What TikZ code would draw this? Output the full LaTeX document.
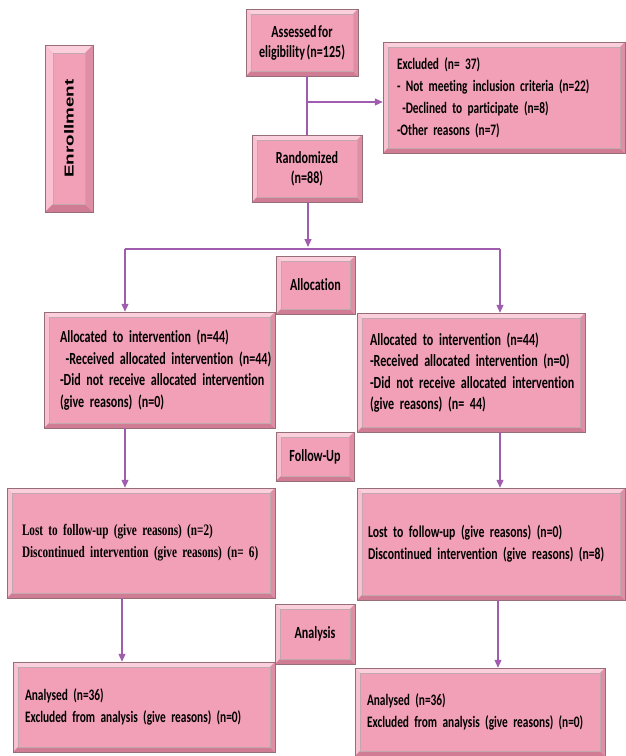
\documentclass[tikz,border=0pt]{standalone}
\usepackage{fontspec}
\setmainfont{Carlito}[FakeStretch=0.71,WordSpace=0.6,Ligatures=NoCommon]
\newfontfamily\tnr{Liberation Serif}[FakeStretch=0.70,WordSpace=0.7]
\newfontfamily\ars{Liberation Sans}
\usetikzlibrary{arrows.meta,calc}
\definecolor{pface}{RGB}{242,160,184}
\definecolor{ptop}{RGB}{251,208,220}
\definecolor{pleft}{RGB}{248,192,208}
\definecolor{pbot}{RGB}{208,124,148}
\definecolor{pright}{RGB}{222,142,165}
\definecolor{pedge}{RGB}{150,110,120}
\definecolor{arr}{RGB}{160,92,175}
\tikzset{
  bevw/.store in=\bevw, bevw=5pt,
  bbox/.style={draw=pedge, line width=0.5pt, fill=pface, inner sep=0pt,
    font=\bfseries, text=black,
    path picture={
      \fill[ptop] (path picture bounding box.north west) -- (path picture bounding box.north east)
        -- ([xshift=-\bevw,yshift=-\bevw]path picture bounding box.north east)
        -- ([xshift=\bevw,yshift=-\bevw]path picture bounding box.north west) -- cycle;
      \fill[pleft] (path picture bounding box.north west) -- (path picture bounding box.south west)
        -- ([xshift=\bevw,yshift=\bevw]path picture bounding box.south west)
        -- ([xshift=\bevw,yshift=-\bevw]path picture bounding box.north west) -- cycle;
      \fill[pbot] (path picture bounding box.south west) -- (path picture bounding box.south east)
        -- ([xshift=-\bevw,yshift=\bevw]path picture bounding box.south east)
        -- ([xshift=\bevw,yshift=\bevw]path picture bounding box.south west) -- cycle;
      \fill[pright] (path picture bounding box.north east) -- (path picture bounding box.south east)
        -- ([xshift=-\bevw,yshift=\bevw]path picture bounding box.south east)
        -- ([xshift=-\bevw,yshift=-\bevw]path picture bounding box.north east) -- cycle;
      \draw[pedge!60, line width=0.3pt] ([xshift=\bevw,yshift=-\bevw]path picture bounding box.north west)
        rectangle ([xshift=-\bevw,yshift=\bevw]path picture bounding box.south east);
    }},
  conn/.style={draw=arr, line width=1.1pt},
  arrow/.style={conn, -{Triangle[length=8pt,width=7pt]}},
}
\newcommand{\ml}[1]{\mbox{#1}}
\begin{document}
\begin{tikzpicture}[x=1pt,y=-1pt]
\useasboundingbox (0,0) rectangle (625,756);
\fill[white] (0,0) rectangle (625,756);
% enrollment / top
\node[bbox, bevw=8pt, minimum width=48pt, minimum height=167pt] (enroll) at (69,128.5)
  {\rotatebox{90}{\scalebox{1.45}[1]{\ars\bfseries\fontsize{13}{15}\selectfont Enrollment}}};
\node[bbox, minimum width=112pt, minimum height=67pt, align=center,
  font=\bfseries\fontsize{17}{20}\selectfont] (assess) at (302,42.5)
  {Assessed for\\eligibility (n=125)};
\node[bbox, minimum width=242pt, minimum height=111pt, text width=214pt, align=left,
  font=\bfseries\fontsize{16}{22}\selectfont] (excl) at (504,97.5)
  {\ml{Excluded (n= 37)}\\\ml{- Not meeting inclusion criteria (n=22)}\\\ml{ -Declined to participate (n=8)}\\\ml{-Other reasons (n=7)}};
\node[bbox, minimum width=110pt, minimum height=67pt, align=center,
  font=\bfseries\fontsize{17}{20}\selectfont] (rand) at (307,168.5)
  {Randomized\\(n=88)};
% allocation
\node[bbox, minimum width=79pt, minimum height=58pt,
  font=\bfseries\fontsize{17}{15}\selectfont] (alloc) at (315.5,285) {Allocation};
\node[bbox, minimum width=231pt, minimum height=116pt, text width=199pt, align=left,
  font=\bfseries\fontsize{17}{21.5}\selectfont] (la) at (159.5,370)
  {\ml{Allocated to intervention (n=44)}\\\ml{ -Received allocated intervention (n=44)}\\\ml{-Did not receive allocated intervention}\\\ml{(give reasons) (n=0)}};
\node[bbox, minimum width=228pt, minimum height=119pt, text width=202pt, align=left,
  font=\bfseries\fontsize{17}{21.5}\selectfont] (ra) at (471,372.5)
  {\ml{Allocated to intervention (n=44)}\\\ml{-Received allocated intervention (n=0)}\\\ml{-Did not receive allocated intervention}\\\ml{(give reasons) (n= 44)}};
% follow-up
\node[bbox, minimum width=78pt, minimum height=49pt,
  font=\bfseries\fontsize{17}{15}\selectfont] (fu) at (315,456.5) {Follow-Up};
\node[bbox, minimum width=268pt, minimum height=110pt, text width=238pt, align=left,
  font=\tnr\bfseries\fontsize{16}{22}\selectfont] (lf) at (141,543)
  {\ml{Lost to follow-up (give reasons) (n=2)}\\\ml{Discontinued intervention (give reasons) (n= 6)}};
\node[bbox, minimum width=268pt, minimum height=112pt, text width=246pt, align=left,
  font=\bfseries\fontsize{16.5}{22}\selectfont] (rf) at (491,544)
  {\ml{Lost to follow-up (give reasons) (n=0)}\\\ml{Discontinued intervention (give reasons) (n=8)}};
% analysis
\node[bbox, minimum width=80pt, minimum height=60pt,
  font=\bfseries\fontsize{17}{15}\selectfont] (an) at (315,634) {Analysis};
\node[bbox, minimum width=262pt, minimum height=90pt, text width=238pt, align=left,
  font=\bfseries\fontsize{16}{22}\selectfont] (lan) at (144,707)
  {\ml{Analysed (n=36)}\\\ml{Excluded from analysis (give reasons) (n=0)}};
\node[bbox, minimum width=250pt, minimum height=88pt, text width=226pt, align=left,
  font=\bfseries\fontsize{16}{22}\selectfont] (ran) at (480,712)
  {\ml{Analysed (n=36)}\\\ml{Excluded from analysis (give reasons) (n=0)}};
% connectors
\coordinate (j1) at (307,102);
\coordinate (split) at (308,249);
\coordinate (sl) at (125,249);
\coordinate (sr) at (500,249);
\draw[conn] (rand.north |- assess.south) -- (rand.north);
\draw[arrow] (j1) -- (j1 -| excl.west);
\draw[arrow] (rand.south -| split) -- ([yshift=2pt]split);
\draw[conn] (sl) -- (sr);
\draw[arrow] (sl) -- (sl |- la.north);
\draw[arrow] (sr) -- (sr |- ra.north);
\draw[arrow] (la.south -| sl) -- (sl |- lf.north);
\draw[arrow] (ra.south -| sr) -- (sr |- rf.north);
\coordinate (cl) at (122,0);
\coordinate (cr) at (498,0);
\draw[arrow] (lf.south -| cl) -- (cl |- lan.north);
\draw[arrow] (rf.south -| cr) -- (cr |- ran.north);
\end{tikzpicture}
\end{document}
